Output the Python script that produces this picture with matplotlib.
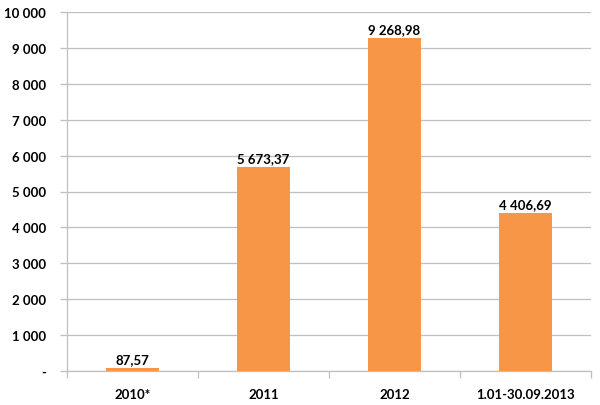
import matplotlib.pyplot as plt

# dane
categories = ['2010*', '2011', '2012', '1.01-30.09.2013']
values = [87.57, 5673.37, 9268.98, 4406.69]
value_labels = ['87,57', '5 673,37', '9 268,98', '4 406,69']
y_ticks = [0, 1000, 2000, 3000, 4000, 5000, 6000, 7000, 8000, 9000, 10000]
y_tick_labels = ['-', '1 000', '2 000', '3 000', '4 000', '5 000',
                 '6 000', '7 000', '8 000', '9 000', '10 000']

plt.rcParams['font.family'] = ['Lato', 'DejaVu Sans']
plt.rcParams['font.weight'] = 'bold'

fig = plt.figure(figsize=(6.0, 4.06), dpi=100)
ax = fig.add_axes([67 / 600, 1 - 372 / 406, 524 / 600, 359 / 406])

grid_col = '#bfbfbf'
x = list(range(len(categories)))
ax.bar(x, values, width=0.4, color='#f79646', zorder=3)

for xi, v, lab in zip(x, values, value_labels):
    ax.annotate(lab, (xi, v), xytext=(0, 2), textcoords='offset points',
                ha='center', va='bottom', fontsize=9.5, fontweight='bold',
                color='black', zorder=4)

ax.set_xlim(-0.5, len(categories) - 0.5)
ax.set_ylim(0, 10000)
ax.set_yticks(y_ticks)
ax.set_yticklabels(y_tick_labels, fontsize=9.5, fontweight='bold')
ax.yaxis.grid(True, color=grid_col, linewidth=0.9, zorder=0)

# podpisy kategorii na środku, kreski na granicach
ax.set_xticks(x)
ax.set_xticklabels(categories, fontsize=9.5, fontweight='bold')
ax.tick_params(axis='x', length=0, pad=12)
ax.set_xticks([i - 0.5 for i in range(len(categories) + 1)], minor=True)
ax.tick_params(axis='x', which='minor', length=5, color=grid_col, width=0.9)
ax.tick_params(axis='y', length=5, color=grid_col, width=0.9, pad=10)

for side in ['top', 'right']:
    ax.spines[side].set_visible(False)
for side in ['left', 'bottom']:
    ax.spines[side].set_color(grid_col)
    ax.spines[side].set_linewidth(0.9)

fig.savefig('out.png', dpi=100)
